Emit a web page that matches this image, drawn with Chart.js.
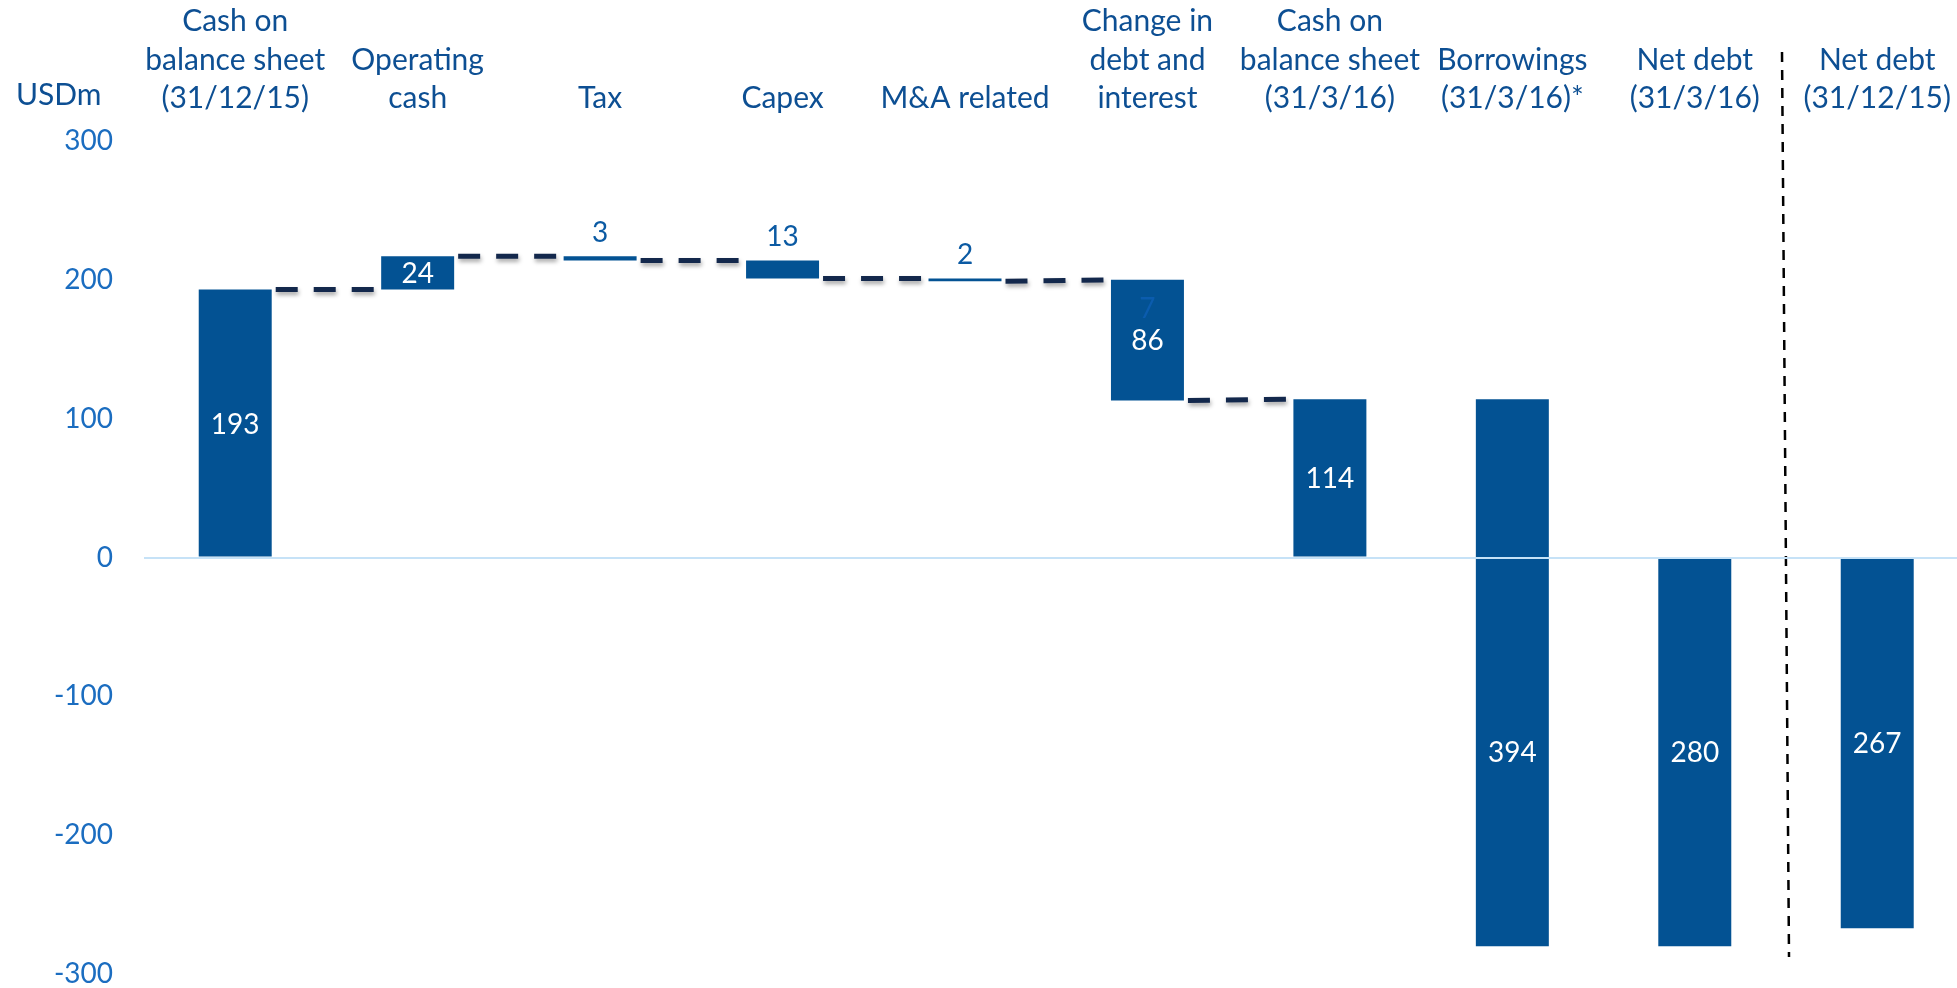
<!DOCTYPE html>
<html><head><meta charset="utf-8">
<script src="https://cdn.jsdelivr.net/npm/chart.js@4.4.1/dist/chart.umd.min.js"></script>
<style>
html,body{margin:0;padding:0;background:#fff;overflow:hidden;}
#wrap{position:relative;width:1974px;height:988px;}
</style></head><body>
<div id="wrap"><canvas id="c"></canvas></div>
<script>
const categories = [
  ['Cash on', 'balance sheet', '(31/12/15)'],
  ['Operating', 'cash'],
  ['Tax'],
  ['Capex'],
  ['M&A related'],
  ['Change in', 'debt and', 'interest'],
  ['Cash on', 'balance sheet', '(31/3/16)'],
  ['Borrowings', '(31/3/16)*'],
  ['Net debt', '(31/3/16)'],
  ['Net debt', '(31/12/15)']
];
const barStart = [0, 193, 217, 214, 201, 200, 0, 114, 0, 0];
const barEnd   = [193, 217, 214, 201, 199, 113, 114, -280, -280, -267];
const shownValues = [193, 24, 3, 13, 2, 86, 114, 394, 280, 267];
const labelAbove = [false, false, true, true, true, false, false, false, false, false];
const isTotal = [true, false, false, false, false, false, true, false, true, true];
const connectors = [[0, 1], [1, 2], [2, 3], [3, 4], [4, 5], [5, 6]];
const yTicks = [300, 200, 100, 0, -100, -200, -300];
const unitLabel = 'USDm';
const extraLabelIndex = 5;
const extraLabelText = '7';
const separatorAfter = 8;

const BAR = '#035293';
const CAT_COLOR = '#0d4f93';
const TICK_COLOR = '#1b6dc0';
const FONT = 'Lato';

const overlay = {
  id: 'overlay',
  afterDatasetsDraw(chart) {
    const ctx = chart.ctx;
    const x = chart.scales.x, y = chart.scales.y;
    const meta = chart.getDatasetMeta(0);
    // connectors
    ctx.save();
    ctx.strokeStyle = '#13284c';
    ctx.lineWidth = 5;
    ctx.setLineDash([22, 16]);
    ctx.shadowColor = 'rgba(0,0,0,0.35)';
    ctx.shadowBlur = 4;
    ctx.shadowOffsetX = 1;
    ctx.shadowOffsetY = 3;
    connectors.forEach(([a, b]) => {
      const ea = meta.data[a], eb = meta.data[b];
      const x1 = ea.x + ea.width / 2 + 4;
      const x2 = eb.x - eb.width / 2;
      const toVal = isTotal[b] ? barEnd[b] : barStart[b];
      ctx.beginPath();
      ctx.moveTo(x1, y.getPixelForValue(barEnd[a]));
      ctx.lineTo(x2, y.getPixelForValue(toVal));
      ctx.stroke();
    });
    ctx.restore();
    // labels
    ctx.save();
    ctx.font = '28px ' + FONT;
    ctx.textAlign = 'center';
    ctx.textBaseline = 'middle';
    meta.data.forEach((el, i) => {
      const s = barStart[i], e = barEnd[i];
      let cy;
      if (labelAbove[i]) {
        ctx.fillStyle = '#0b5aa3';
        cy = y.getPixelForValue(Math.max(s, e)) - 24;
      } else {
        ctx.fillStyle = '#ffffff';
        if (s > 0 && e < 0) cy = (y.getPixelForValue(0) + y.getPixelForValue(e)) / 2;
        else cy = (y.getPixelForValue(s) + y.getPixelForValue(e)) / 2;
      }
      ctx.fillText(String(shownValues[i]), el.x, cy + 1);
      if (i === extraLabelIndex) {
        ctx.fillStyle = '#0b5cae';
        ctx.fillText(extraLabelText, el.x, y.getPixelForValue(Math.max(s, e)) + 29);
      }
    });
    // unit label
    ctx.fillStyle = CAT_COLOR;
    ctx.font = '30px ' + FONT;
    ctx.textAlign = 'left';
    ctx.fillText(unitLabel, 16, 95);
    // separator
    const sx = (x.getPixelForValue(separatorAfter) + x.getPixelForValue(separatorAfter + 1)) / 2;
    ctx.strokeStyle = '#000000';
    ctx.lineWidth = 2.5;
    ctx.setLineDash([10, 8]);
    ctx.beginPath();
    ctx.moveTo(sx - 4, 52);
    ctx.lineTo(sx + 3, 957);
    ctx.stroke();
    ctx.restore();
  }
};

new Chart(document.getElementById('c'), {
  type: 'bar',
  data: {
    labels: categories,
    datasets: [{
      data: barStart.map((s, i) => [s, barEnd[i]]),
      backgroundColor: BAR,
      borderWidth: 0,
      borderSkipped: false,
      categoryPercentage: 1,
      barPercentage: 0.4
    }]
  },
  options: {
    responsive: true,
    maintainAspectRatio: false,
    animation: false,
    layout: { padding: 0 },
    plugins: { legend: { display: false }, tooltip: { enabled: false } },
    scales: {
      x: {
        position: 'top',
        offset: true,
        grid: { display: false, drawTicks: false },
        border: { display: false },
        ticks: {
          color: CAT_COLOR,
          font: { family: FONT, size: 30, lineHeight: 1.29 },
          padding: 23,
          maxRotation: 0,
          autoSkip: false
        },
        afterFit(s) { s.height = 141; }
      },
      y: {
        min: -300, max: 300,
        afterBuildTicks(s) { s.ticks = yTicks.slice().reverse().map(v => ({ value: v })); },
        grid: {
          z: 1,
          drawTicks: true,
          tickLength: 31,
          tickColor: 'rgba(0,0,0,0)',
          lineWidth: c => (c.tick && c.tick.value === 0) ? 2 : 0,
          color: c => (c.tick && c.tick.value === 0) ? '#c6e2f7' : 'rgba(0,0,0,0)'
        },
        border: { display: false },
        ticks: {
          color: TICK_COLOR,
          font: { family: FONT, size: 28, lineHeight: 1.0 },
          padding: 0
        },
        afterFit(s) { s.width = 144; }
      }
    }
  },
  plugins: [overlay]
});
</script>
</body></html>
